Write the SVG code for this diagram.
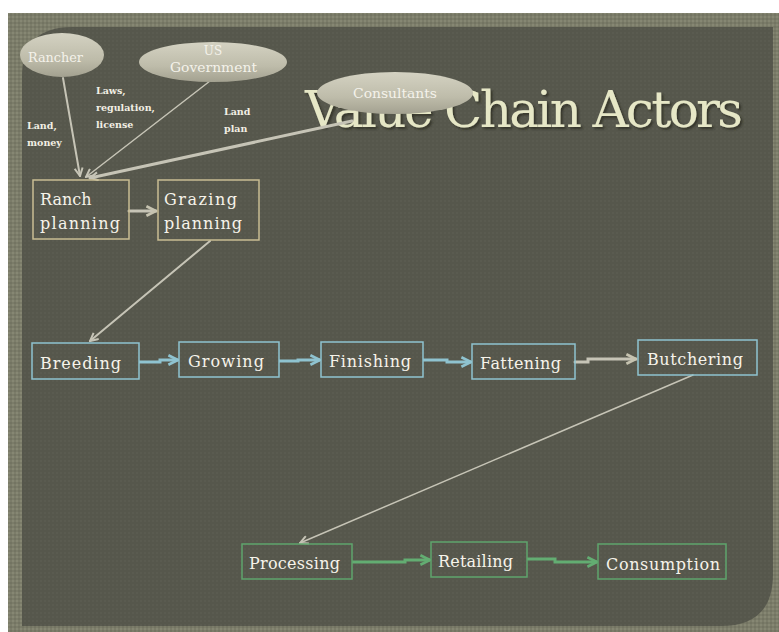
<svg xmlns="http://www.w3.org/2000/svg" width="779" height="632" viewBox="0 0 779 632">
<defs>
<style>
.lbl{font-family:"DejaVu Serif","Liberation Serif",serif;font-size:9.5px;font-weight:bold;fill:#f2efe4}
.ell{font-family:"DejaVu Serif","Liberation Serif",serif;font-size:12px;fill:#f4f2ea}
.box{font-family:"DejaVu Serif","Liberation Serif",serif;font-size:16px;fill:#f6f3ea}
.tan{fill:none;stroke:#c9bd92;stroke-width:1.5}
.blue{fill:none;stroke:#8fc3d0;stroke-width:1.5}
.green{fill:none;stroke:#5fa56c;stroke-width:1.5}
.cg{fill:none;stroke:#c6c4b6;stroke-linecap:round}
.cb{fill:none;stroke:#8fc3d0;stroke-width:3;marker-end:url(#ab)}
.cgr{fill:none;stroke:#63ad72;stroke-width:3;marker-end:url(#agr)}
</style>
<filter id="sh" x="-5%" y="-20%" width="110%" height="140%">
<feDropShadow dx="2" dy="2" stdDeviation="0.8" flood-color="#2a2b24" flood-opacity="0.8"/>
</filter>
<pattern id="tex" width="4" height="4" patternUnits="userSpaceOnUse">
<rect width="4" height="4" fill="#7b7c69"/>
<rect width="2" height="2" fill="#868773"/>
<rect x="2" y="2" width="2" height="2" fill="#737462"/>
</pattern>
<pattern id="ptex" width="4" height="4" patternUnits="userSpaceOnUse">
<rect width="4" height="4" fill="#56574c"/>
<rect width="2" height="2" fill="#5a5b50"/>
</pattern>
<linearGradient id="eg" x1="0" y1="0" x2="0" y2="1">
<stop offset="0" stop-color="#d4d2c2"/>
<stop offset="0.6" stop-color="#bebcaa"/>
<stop offset="1" stop-color="#a3a190"/>
</linearGradient>
<marker id="ag" viewBox="0 0 10 10" refX="9" refY="5" markerWidth="10" markerHeight="10" markerUnits="userSpaceOnUse" orient="auto">
<path d="M1,1 L9,5 L1,9" fill="none" stroke="#c6c4b6" stroke-width="2"/>
</marker>
<marker id="ab" viewBox="0 0 10 10" refX="9" refY="5" markerWidth="12" markerHeight="12" markerUnits="userSpaceOnUse" orient="auto">
<path d="M1,1 L9,5 L1,9" fill="none" stroke="#8fc3d0" stroke-width="2.2"/>
</marker>
<marker id="agr" viewBox="0 0 10 10" refX="9" refY="5" markerWidth="12" markerHeight="12" markerUnits="userSpaceOnUse" orient="auto">
<path d="M1,1 L9,5 L1,9" fill="none" stroke="#63ad72" stroke-width="2.2"/>
</marker>
<marker id="at" viewBox="0 0 10 10" refX="9" refY="5" markerWidth="12" markerHeight="12" markerUnits="userSpaceOnUse" orient="auto">
<path d="M1,1 L9,5 L1,9" fill="none" stroke="#c6c3b0" stroke-width="2.2"/>
</marker>
</defs>
<rect width="779" height="632" fill="#ffffff"/>
<rect x="8" y="13" width="771" height="619" fill="url(#tex)"/>
<path d="M72,27 L773,27 L773,574 Q773,626 721,626 L22,626 L22,77 Q22,27 72,27 Z" fill="url(#ptex)"/>

<g id="title">
<text x="305" y="127" font-family="DejaVu Serif, Liberation Serif, serif" font-size="50" fill="#e6e7c6" textLength="438" filter="url(#sh)">Value Chain Actors</text>
</g>

<g id="connectors">
<line class="cg" x1="63" y1="78" x2="80" y2="176" stroke-width="2" marker-end="url(#ag)"/>
<line class="cg" x1="210" y1="81" x2="86" y2="177" stroke-width="1.5" marker-end="url(#ag)"/>
<line class="cg" x1="352" y1="121" x2="90" y2="178" stroke-width="3" marker-end="url(#ag)"/>
<line class="cg" x1="129" y1="211" x2="156" y2="211" stroke="#c6c3b0" stroke-width="3" marker-end="url(#at)"/>
<line class="cg" x1="210" y1="241" x2="90" y2="341" stroke-width="2" marker-end="url(#ag)"/>
<polyline class="cb" points="139,362 160,362 160,360 178,360"/>
<polyline class="cb" points="279,361 298,361 298,360 320,360"/>
<polyline class="cb" points="423,360 447,360 447,362 471,362"/>
<polyline class="cg" points="575,362 588,362 588,359 636,359" stroke="#c6c3b0" stroke-width="3" marker-end="url(#at)"/>
<line class="cg" x1="693" y1="375" x2="300" y2="543" stroke-width="1.5" marker-end="url(#ag)"/>
<polyline class="cgr" points="352,562 405,562 405,560 430,560"/>
<polyline class="cgr" points="527,559 555,559 555,562 597,562"/>
</g>

<g id="rancher">
<ellipse cx="62" cy="55" rx="42" ry="22" fill="url(#eg)"/>
<text class="ell" x="28" y="62" textLength="55" lengthAdjust="spacingAndGlyphs">Rancher</text>
</g>
<g id="us-government">
<ellipse cx="213" cy="62" rx="74" ry="20" fill="url(#eg)"/>
<text class="ell" x="213" y="55" text-anchor="middle">US</text>
<text class="ell" x="170" y="72" textLength="87" lengthAdjust="spacingAndGlyphs">Government</text>
</g>
<g id="consultants">
<ellipse cx="395" cy="93" rx="78" ry="21" fill="url(#eg)"/>
<text class="ell" x="353" y="98" textLength="84" lengthAdjust="spacingAndGlyphs">Consultants</text>
</g>

<g id="labels">
<text class="lbl" x="27" y="129">Land,</text>
<text class="lbl" x="27" y="146">money</text>
<text class="lbl" x="96" y="94">Laws,</text>
<text class="lbl" x="96" y="111">regulation,</text>
<text class="lbl" x="96" y="128">license</text>
<text class="lbl" x="224" y="115">Land</text>
<text class="lbl" x="224" y="132">plan</text>
</g>

<g id="ranch-planning">
<rect class="tan" x="33" y="180" width="96" height="59"/>
<text class="box" x="40" y="205" font-size="17">Ranch</text>
<text class="box" x="40" y="229" font-size="17" textLength="80">planning</text>
</g>
<g id="grazing-planning">
<rect class="tan" x="158" y="180" width="101" height="60"/>
<text class="box" x="164" y="205" font-size="17" textLength="73">Grazing</text>
<text class="box" x="164" y="229" font-size="17" textLength="78">planning</text>
</g>

<g id="breeding">
<rect class="blue" x="32" y="343" width="107" height="36"/>
<text class="box" x="40" y="369" textLength="81">Breeding</text>
</g>
<g id="growing">
<rect class="blue" x="179" y="342" width="100" height="35"/>
<text class="box" x="188" y="367" textLength="76">Growing</text>
</g>
<g id="finishing">
<rect class="blue" x="321" y="342" width="102" height="35"/>
<text class="box" x="329" y="367" textLength="82">Finishing</text>
</g>
<g id="fattening">
<rect class="blue" x="472" y="344" width="103" height="35"/>
<text class="box" x="480" y="369" textLength="81">Fattening</text>
</g>
<g id="butchering">
<rect class="blue" x="638" y="340" width="119" height="35"/>
<text class="box" x="647" y="365" textLength="96">Butchering</text>
</g>

<g id="processing">
<rect class="green" x="242" y="544" width="110" height="35"/>
<text class="box" x="249" y="569" textLength="91">Processing</text>
</g>
<g id="retailing">
<rect class="green" x="431" y="542" width="96" height="35"/>
<text class="box" x="438" y="567" textLength="75">Retailing</text>
</g>
<g id="consumption">
<rect class="green" x="598" y="544" width="128" height="35"/>
<text class="box" x="606" y="570" textLength="114">Consumption</text>
</g>
</svg>
